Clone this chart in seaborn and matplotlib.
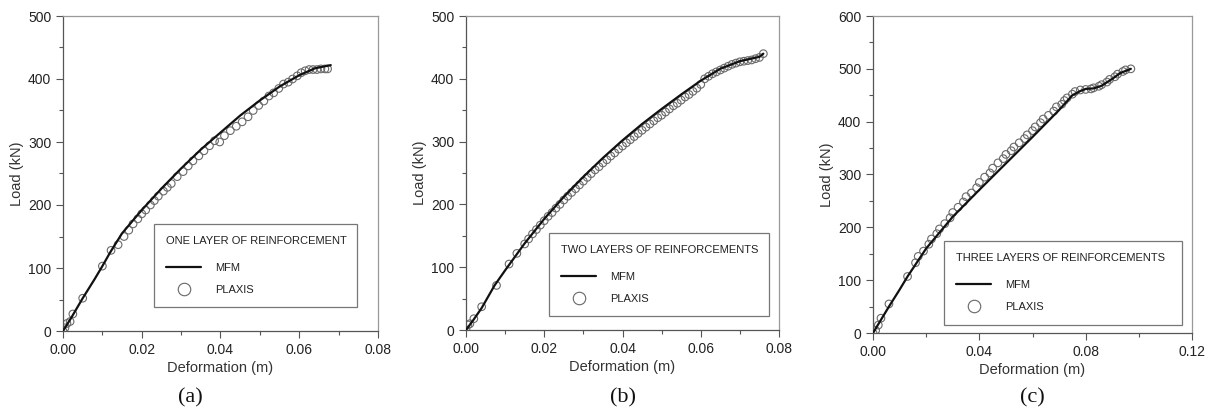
import numpy as np
import pandas as pd
import seaborn as sns
import matplotlib
matplotlib.use("Agg")
import matplotlib.pyplot as plt
from matplotlib.ticker import MultipleLocator, FormatStrFormatter
from matplotlib.lines import Line2D

# ---------------- data ----------------
# Panel (a): one layer
a_mfm_x = [0.0, 0.002, 0.005, 0.008, 0.010, 0.012, 0.015, 0.020, 0.025, 0.030, 0.035, 0.040,
           0.045, 0.050, 0.055, 0.060, 0.064, 0.068]
a_mfm_y = [0, 20, 52, 82, 103, 125, 155, 192, 226, 258, 288, 315, 342, 366, 388, 406, 417, 422]
a_plx_x = [0.0000, 0.0005, 0.0010, 0.0018, 0.0025, 0.0050, 0.0100, 0.0122, 0.0140, 0.0155,
           0.0167, 0.0178, 0.0190, 0.0200, 0.0210, 0.0222, 0.0232, 0.0242, 0.0255, 0.0265,
           0.0275, 0.0290, 0.0305, 0.0318, 0.0330, 0.0345, 0.0358, 0.0372, 0.0385, 0.0398,
           0.0410, 0.0425, 0.0440, 0.0455, 0.0470, 0.0483, 0.0497, 0.0510, 0.0523, 0.0535,
           0.0548, 0.0560, 0.0572, 0.0583, 0.0595, 0.0605, 0.0615, 0.0625, 0.0635, 0.0645,
           0.0655, 0.0665, 0.0672]
a_plx_y = [0, 5, 12, 15, 27, 52, 103, 128, 137, 150,
           160, 170, 178, 186, 192, 200, 207, 214, 222, 228,
           234, 245, 253, 262, 270, 278, 286, 294, 302, 300,
           310, 318, 325, 332, 340, 350, 358, 365, 373, 378,
           385, 392, 395, 400, 405, 410, 413, 415, 415, 415,
           416, 416, 416]

# Panel (b): two layers
b_mfm_x = [0.0, 0.002, 0.004, 0.0073, 0.010, 0.015, 0.020, 0.025, 0.030, 0.035, 0.040, 0.045,
           0.050, 0.055, 0.060, 0.065, 0.070, 0.075, 0.076]
b_mfm_y = [0, 17, 35, 71, 95, 138, 177, 212, 244, 274, 302, 328, 352, 375, 397, 416, 428, 435, 440]
b_plx_x = [0.0000, 0.0005, 0.0010, 0.0020, 0.0040, 0.0078, 0.0110, 0.0130, 0.0150, 0.0160,
           0.0170, 0.0180, 0.0190, 0.0200, 0.0210, 0.0220, 0.0230, 0.0240, 0.0250, 0.0260,
           0.0270, 0.0280, 0.0290, 0.0300, 0.0310, 0.0320, 0.0330, 0.0340, 0.0350, 0.0360,
           0.0370, 0.0380, 0.0390, 0.0400, 0.0410, 0.0420, 0.0430, 0.0440, 0.0450, 0.0460,
           0.0470, 0.0480, 0.0490, 0.0500, 0.0510, 0.0520, 0.0530, 0.0540, 0.0550, 0.0560,
           0.0570, 0.0580, 0.0590, 0.0600, 0.0610, 0.0620, 0.0630, 0.0640, 0.0650, 0.0660,
           0.0670, 0.0680, 0.0690, 0.0700, 0.0710, 0.0720, 0.0730, 0.0740, 0.0750, 0.0760]
b_plx_y = [0, 8, 10, 18, 37, 71, 105, 122, 137, 145,
           153, 160, 167, 174, 181, 187, 194, 200, 207, 213,
           219, 225, 231, 237, 243, 249, 255, 260, 266, 271,
           277, 282, 288, 293, 298, 303, 308, 313, 318, 323,
           328, 333, 338, 342, 347, 352, 357, 361, 366, 371,
           375, 380, 385, 391, 400, 404, 408, 411, 414, 417,
           420, 423, 425, 427, 428, 429, 430, 432, 434, 440]

# Panel (c): three layers
c_mfm_x = [0.0, 0.003, 0.006, 0.010, 0.013, 0.020, 0.030, 0.040, 0.050, 0.060, 0.070, 0.075,
           0.078, 0.080, 0.083, 0.086, 0.090, 0.093, 0.097]
c_mfm_y = [0, 25, 50, 82, 107, 160, 220, 271, 321, 371, 422, 450, 458, 462, 463, 468, 481, 492, 500]
c_plx_x = [0.000, 0.001, 0.002, 0.003, 0.006, 0.013, 0.016, 0.017, 0.019, 0.021,
           0.022, 0.024, 0.025, 0.027, 0.029, 0.030, 0.032, 0.034, 0.035, 0.037,
           0.039, 0.040, 0.042, 0.044, 0.045, 0.047, 0.049, 0.050, 0.052, 0.053,
           0.055, 0.057, 0.058, 0.060, 0.061, 0.063, 0.064, 0.066, 0.068, 0.069,
           0.071, 0.072, 0.073, 0.075, 0.076, 0.078, 0.080, 0.082, 0.083, 0.085,
           0.086, 0.088, 0.089, 0.091, 0.092, 0.094, 0.095, 0.097]
c_plx_y = [0, 5, 15, 28, 55, 107, 133, 145, 155, 168,
           178, 188, 197, 207, 218, 228, 238, 248, 258, 265,
           275, 285, 295, 303, 312, 322, 330, 338, 345, 352,
           360, 368, 375, 383, 390, 398, 405, 412, 420, 428,
           433, 440, 445, 452, 457, 460, 461, 462, 464, 467,
           470, 475, 480, 485, 490, 495, 498, 500]

titles = ["ONE LAYER OF REINFORCEMENT", "TWO LAYERS OF REINFORCEMENTS",
          "THREE LAYERS OF REINFORCEMENTS"]
panel_labels = ["(a)", "(b)", "(c)"]
x_limits = [(0, 0.08), (0, 0.08), (0, 0.12)]
y_limits = [(0, 500), (0, 500), (0, 600)]
x_major = [0.02, 0.02, 0.04]

# ---------------- plotting ----------------
sns.set_style("ticks")
plt.rcParams['font.family'] = ['Liberation Sans', 'DejaVu Sans']

fig = plt.figure(figsize=(12.15, 4.15), dpi=100)
axes_pos = [
    [63 / 1215, 84 / 415, 315 / 1215, 315 / 415],
    [466 / 1215, 85 / 415, 313 / 1215, 314 / 415],
    [873 / 1215, 82 / 415, 319 / 1215, 317 / 415],
]
legend_boxes = [
    (0.270, 0.057, 0.682, 0.283),
    (0.246, 0.026, 0.741, 0.284),
    (0.204, 0.009, 0.781, 0.28),
]
label_x = [190, 623, 1032]

data = [
    (a_mfm_x, a_mfm_y, a_plx_x, a_plx_y),
    (b_mfm_x, b_mfm_y, b_plx_x, b_plx_y),
    (c_mfm_x, c_mfm_y, c_plx_x, c_plx_y),
]

for i in range(3):
    ax = fig.add_axes(axes_pos[i])
    mx, my, px, py = data[i]
    df_m = pd.DataFrame({"x": mx, "y": my})
    df_p = pd.DataFrame({"x": px, "y": py})
    sns.lineplot(data=df_m, x="x", y="y", ax=ax, color="#111111", linewidth=1.6,
                 sort=False, zorder=3)
    sns.scatterplot(data=df_p, x="x", y="y", ax=ax, marker="o", s=30,
                    facecolor="none", edgecolor="#6a6a6a", linewidth=0.8, zorder=2)
    ax.set_xlim(*x_limits[i])
    ax.set_ylim(*y_limits[i])
    ax.xaxis.set_major_locator(MultipleLocator(x_major[i]))
    ax.xaxis.set_minor_locator(MultipleLocator(x_major[i] / 2))
    ax.yaxis.set_major_locator(MultipleLocator(100))
    ax.yaxis.set_minor_locator(MultipleLocator(50))
    ax.xaxis.set_major_formatter(FormatStrFormatter("%.2f"))
    ax.tick_params(which="major", direction="out", length=5, width=0.8,
                   colors="#555555", labelcolor="#222222", labelsize=10)
    ax.tick_params(which="minor", direction="out", length=3, width=0.8, colors="#555555")
    for s in ["left", "bottom"]:
        ax.spines[s].set_color("#555555")
        ax.spines[s].set_linewidth(0.9)
    for s in ["top", "right"]:
        ax.spines[s].set_visible(True)
        ax.spines[s].set_color("#999999")
        ax.spines[s].set_linewidth(0.9)
    ax.set_xlabel("Deformation (m)", fontsize=10.5, color="#333333", labelpad=3)
    ax.set_ylabel("Load (kN)", fontsize=10.5, color="#333333", labelpad=3)

    handles = [Line2D([], [], color="#111111", linewidth=1.6),
               Line2D([], [], linestyle="none", marker="o", markersize=9,
                      markerfacecolor="none", markeredgecolor="#666666", markeredgewidth=0.8)]
    leg = ax.legend(handles, ["MFM", "PLAXIS"], title=titles[i],
                    loc="lower left", bbox_to_anchor=legend_boxes[i], mode="expand",
                    fontsize=8, title_fontsize=8, frameon=True, fancybox=False,
                    edgecolor="#555555", handlelength=3.2, handletextpad=1.2,
                    labelspacing=1.1, borderpad=1.1, alignment="left")
    leg.get_frame().set_linewidth(0.9)
    leg.get_title().set_color("#222222")
    leg._legend_box.sep = 12
    for t in leg.get_texts():
        t.set_color("#222222")

    fig.text(label_x[i] / 1215, 1 - 398 / 415, panel_labels[i], ha="center", va="center",
             fontsize=16, family="Liberation Serif", color="#111111")

fig.savefig("out.png", dpi=100)
